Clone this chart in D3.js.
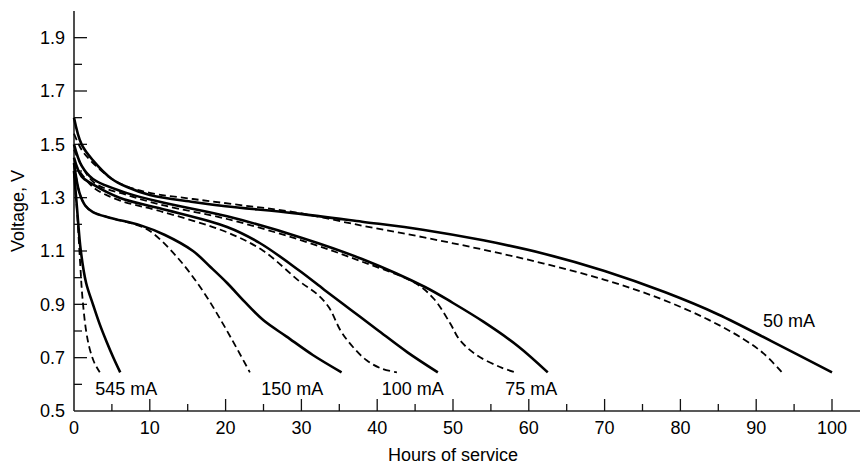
<!DOCTYPE html>
<html>
<head>
<meta charset="utf-8">
<script src="https://cdn.jsdelivr.net/npm/d3@7"></script>
<style>
  html, body { margin: 0; padding: 0; background: #fff; }
  svg text { font-family: "Liberation Sans", Arial, Helvetica, sans-serif; fill: #000; }
</style>
</head>
<body>
<svg id="chart" width="863" height="467"></svg>
<script>
// ---- data (hours of service, voltage) ----
const s50 = [[0,1.60],[1,1.50],[2.5,1.44],[5,1.37],[7,1.34],[10,1.31],[15.7,1.284],[20,1.268],[29,1.242],[38,1.21],[46,1.18],[54,1.14],[62,1.09],[70,1.025],[78,0.945],[85,0.862],[92,0.762],[100,0.645]];
const d50 = [[0,1.54],[1,1.48],[2.5,1.43],[5,1.37],[7,1.342],[10,1.318],[15.7,1.295],[22,1.272],[29,1.246],[38,1.195],[46,1.152],[54,1.105],[62,1.053],[70,0.992],[77,0.925],[83.5,0.845],[88.3,0.77],[91,0.715],[93.4,0.645]];
const s75 = [[0,1.50],[1,1.42],[2.5,1.37],[7,1.317],[12,1.28],[20.2,1.23],[30,1.15],[38,1.07],[46.3,0.965],[50,0.905],[54,0.835],[58.5,0.745],[62.5,0.645]];
const d75 = [[0,1.48],[2.5,1.36],[7,1.31],[12,1.27],[20.2,1.22],[30,1.14],[38,1.06],[45,0.98],[47.5,0.92],[49.6,0.83],[50.9,0.766],[53.1,0.71],[56.2,0.665],[58.2,0.645]];
const s100 = [[0,1.45],[1,1.38],[2.5,1.35],[6,1.30],[11.3,1.26],[20.2,1.19],[24.5,1.13],[29.8,1.025],[33,0.955],[36.5,0.88],[40,0.805],[44,0.72],[48,0.645]];
const d100 = [[0,1.43],[2.5,1.34],[6,1.29],[11.3,1.25],[20.2,1.17],[25,1.10],[29.8,0.985],[32,0.94],[33.6,0.89],[35.2,0.80],[36.8,0.74],[38.6,0.69],[40.5,0.66],[42.6,0.645]];
const s150 = [[0,1.43],[0.7,1.32],[1.5,1.27],[2.5,1.246],[4.7,1.225],[8.7,1.197],[12,1.16],[15.7,1.10],[18,1.04],[20.2,0.98],[22.5,0.91],[25,0.84],[28,0.78],[31.5,0.71],[35.3,0.645]];
const d150 = [[0,1.43],[0.7,1.32],[1.5,1.27],[2.5,1.246],[4.7,1.225],[8,1.20],[10,1.175],[13.6,1.077],[17,0.95],[20.2,0.80],[23.2,0.645]];
const s545 = [[0,1.40],[0.4,1.26],[0.9,1.10],[1.6,0.98],[2.5,0.90],[3.4,0.825],[4.3,0.76],[5.2,0.70],[6.1,0.645]];
const d545 = [[0,1.40],[0.4,1.25],[0.8,1.06],[1.1,0.93],[1.6,0.80],[2.1,0.73],[2.7,0.68],[3.4,0.645]];

const solidSeries = [s50, s75, s100, s150, s545];
const dashedSeries = [d50, d75, d100, d150, d545];

const currentLabels = ["545 mA", "150 mA", "100 mA", "75 mA", "50 mA"];
const labelHours = [2.8, 24.7, 40.6, 56.9, 90.9];
const labelVolts = [0.56, 0.56, 0.56, 0.56, 0.815];

const xMajorTicks = [0,10,20,30,40,50,60,70,80,90,100];
const xMinorTicks = [5,15,25,35,45,55,65,75,85,95];
const yMajorTicks = [0.5,0.7,0.9,1.1,1.3,1.5,1.7,1.9];
const yMinorTicks = [0.6,0.8,1.0,1.2,1.4,1.6,1.8];

const xTitle = "Hours of service";
const yTitle = "Voltage, V";

// ---- layout ----
const svg = d3.select("#chart");
const x = d3.scaleLinear().domain([0, 100]).range([74, 832]);
const y = d3.scaleLinear().domain([0.5, 2.0]).range([411, 11]);

const line = d3.line().x(d => x(d[0])).y(d => y(d[1])).curve(d3.curveCatmullRom.alpha(0.5));

// axes lines
svg.append("line").attr("x1", x(0)).attr("x2", x(0)).attr("y1", y(2.0)).attr("y2", y(0.5))
  .attr("stroke", "#222").attr("stroke-width", 1.6);
svg.append("line").attr("x1", x(0)).attr("x2", 860).attr("y1", y(0.5)).attr("y2", y(0.5))
  .attr("stroke", "#222").attr("stroke-width", 1.6);

// x ticks (inward, upward)
svg.append("g").selectAll("line").data(xMajorTicks.filter(d => d > 0)).join("line")
  .attr("x1", d => x(d)).attr("x2", d => x(d)).attr("y1", y(0.5)).attr("y2", y(0.5) - 12)
  .attr("stroke", "#111").attr("stroke-width", 1.3);
svg.append("g").selectAll("line").data(xMinorTicks).join("line")
  .attr("x1", d => x(d)).attr("x2", d => x(d)).attr("y1", y(0.5)).attr("y2", y(0.5) - 7)
  .attr("stroke", "#111").attr("stroke-width", 1.3);
svg.append("g").selectAll("text").data(xMajorTicks).join("text")
  .attr("x", d => x(d)).attr("y", 434).attr("text-anchor", "middle")
  .attr("font-size", 18).text(d => d);

// y ticks (inward, rightward)
svg.append("g").selectAll("line").data(yMajorTicks.filter(d => d > 0.5)).join("line")
  .attr("x1", x(0)).attr("x2", x(0) + 13).attr("y1", d => y(d)).attr("y2", d => y(d))
  .attr("stroke", "#111").attr("stroke-width", 1.3);
svg.append("g").selectAll("line").data(yMinorTicks).join("line")
  .attr("x1", x(0)).attr("x2", x(0) + 8).attr("y1", d => y(d)).attr("y2", d => y(d))
  .attr("stroke", "#111").attr("stroke-width", 1.3);
svg.append("g").selectAll("text").data(yMajorTicks).join("text")
  .attr("x", 65).attr("y", d => y(d)).attr("dy", "0.35em").attr("text-anchor", "end")
  .attr("font-size", 18).text(d => d3.format(".1f")(d));

// titles
svg.append("text").attr("x", x(50)).attr("y", 461).attr("text-anchor", "middle")
  .attr("font-size", 18).text(xTitle);
svg.append("text").attr("transform", `translate(24,${(y(2.0) + y(0.5)) / 2}) rotate(-90)`)
  .attr("text-anchor", "middle").attr("font-size", 18).text(yTitle);

// curves
svg.append("g").selectAll("path").data(dashedSeries).join("path")
  .attr("d", line).attr("fill", "none").attr("stroke", "#000")
  .attr("stroke-width", 1.8).attr("stroke-dasharray", "7,4");
svg.append("g").selectAll("path").data(solidSeries).join("path")
  .attr("d", line).attr("fill", "none").attr("stroke", "#000")
  .attr("stroke-width", 2.6);

// current labels
svg.append("g").selectAll("text").data(currentLabels).join("text")
  .attr("x", (d, i) => x(labelHours[i])).attr("y", (d, i) => y(labelVolts[i]))
  .attr("font-size", 18).text(d => d);
</script>
</body>
</html>
